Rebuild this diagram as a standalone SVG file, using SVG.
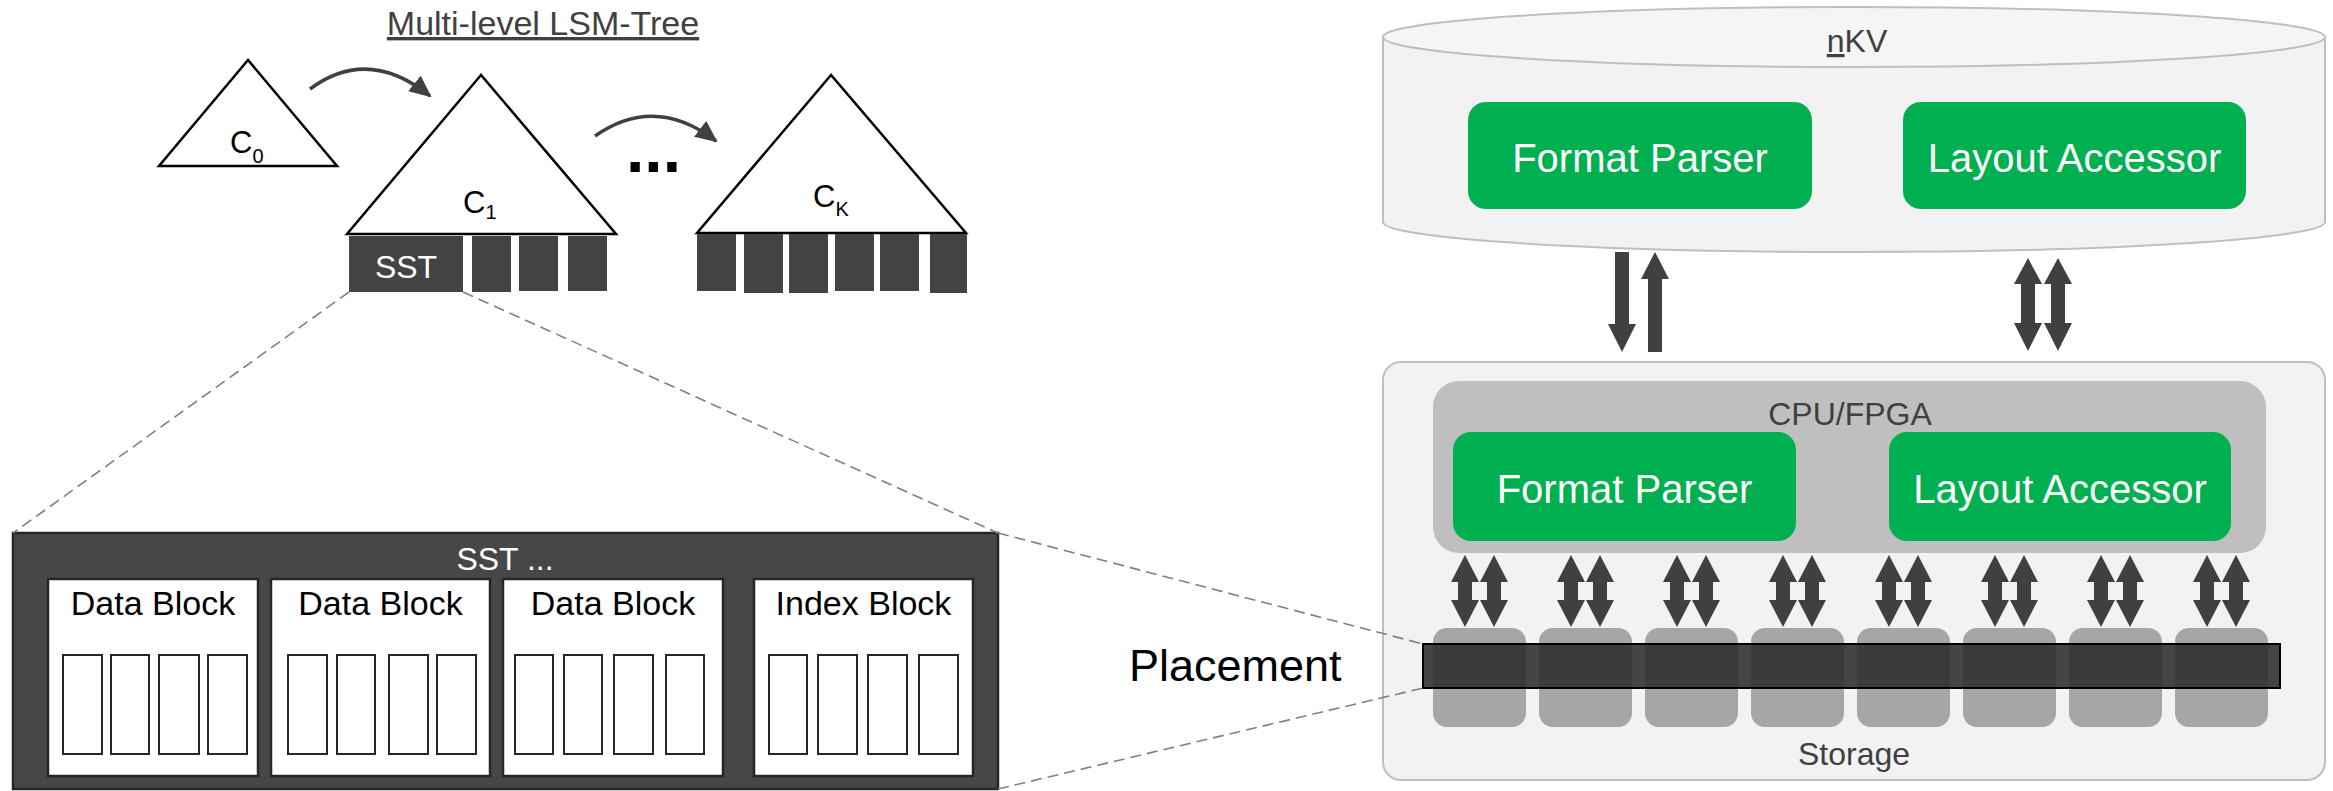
<svg xmlns="http://www.w3.org/2000/svg" width="2333" height="791" viewBox="0 0 2333 791">
<defs>
<style>
text{font-family:"Liberation Sans",Arial,sans-serif;}
.tri{fill:#fff;stroke:#000;stroke-width:2.5;stroke-linejoin:miter;}
.dk{fill:#434343;}
.blk{fill:#fff;stroke:#262626;stroke-width:2.5;}
.cell{fill:#fff;stroke:#262626;stroke-width:2;}
.dash{stroke:#808080;stroke-width:1.6;stroke-dasharray:11 6;fill:none;}
.curve{fill:none;stroke:#404040;stroke-width:3.5;}
.green{fill:#00b050;}
.gt{fill:#fff;font-size:40px;text-anchor:middle;}
.arr{fill:#404040;}
.sto{fill:#a6a6a6;}
.lbl{fill:#404040;font-size:32px;text-anchor:middle;}
</style>
<marker id="ah" markerWidth="22" markerHeight="20" refX="20" refY="10" orient="auto" markerUnits="userSpaceOnUse">
<path d="M0,0 L22,10 L0,20 Z" fill="#404040"/>
</marker>
<path id="dbl" d="M0,0 L14,27 L7,27 L7,45 L14,45 L0,72 L-14,45 L-7,45 L-7,27 L-14,27 Z"/>
</defs>

<g id="title">
<text x="543" y="35" font-size="34" fill="#404040" text-anchor="middle" style="text-decoration:underline">Multi-level LSM-Tree</text>
</g>

<g id="c0">
<polygon class="tri" points="248,60 159,166 337,166"/>
<text x="230" y="153" font-size="31">C<tspan font-size="20" dy="10">0</tspan></text>
</g>

<g id="c1">
<polygon class="tri" points="481,75 347,234 616,234"/>
<text x="463" y="213" font-size="31">C<tspan font-size="20" dy="6">1</tspan></text>
<rect id="sst-small" class="dk" x="349" y="236" width="114" height="56"/>
<text x="406" y="278" font-size="32" fill="#fff" text-anchor="middle">SST</text>
<rect class="dk" x="472" y="236" width="39" height="56"/>
<rect class="dk" x="519" y="236" width="39" height="55"/>
<rect class="dk" x="568" y="236" width="39" height="55"/>
</g>

<g id="ellipsis">
<text x="626" y="172" font-size="66" font-weight="bold" fill="#000">...</text>
</g>

<g id="ck">
<polygon class="tri" points="831,75 697,233 966,233"/>
<text x="813" y="207" font-size="31">C<tspan font-size="20" dy="9">K</tspan></text>
<rect class="dk" x="697" y="234" width="39" height="57"/>
<rect class="dk" x="744" y="234" width="39" height="59"/>
<rect class="dk" x="789" y="234" width="39" height="59"/>
<rect class="dk" x="835" y="234" width="39" height="57"/>
<rect class="dk" x="880" y="234" width="39" height="57"/>
<rect class="dk" x="930" y="234" width="37" height="59"/>
</g>

<g id="sst-detail">
<rect x="13" y="533" width="985" height="256" fill="#474747" stroke="#262626" stroke-width="2.5"/>
<text x="505" y="570" font-size="32" fill="#fff" text-anchor="middle">SST ...</text>
<g id="block1">
<rect class="blk" x="48" y="579" width="210" height="197"/>
<text x="153" y="615" font-size="34" text-anchor="middle">Data Block</text>
<rect class="cell" x="63" y="655" width="39" height="99"/>
<rect class="cell" x="111" y="655" width="38" height="99"/>
<rect class="cell" x="159" y="655" width="40" height="99"/>
<rect class="cell" x="208" y="655" width="39" height="99"/>
</g>
<g id="block2">
<rect class="blk" x="271" y="579" width="219" height="197"/>
<text x="380.5" y="615" font-size="34" text-anchor="middle">Data Block</text>
<rect class="cell" x="288" y="655" width="39" height="99"/>
<rect class="cell" x="337" y="655" width="38" height="99"/>
<rect class="cell" x="389" y="655" width="39" height="99"/>
<rect class="cell" x="437" y="655" width="39" height="99"/>
</g>
<g id="block3">
<rect class="blk" x="503" y="579" width="220" height="197"/>
<text x="613" y="615" font-size="34" text-anchor="middle">Data Block</text>
<rect class="cell" x="515" y="655" width="38" height="99"/>
<rect class="cell" x="564" y="655" width="38" height="99"/>
<rect class="cell" x="614" y="655" width="39" height="99"/>
<rect class="cell" x="666" y="655" width="38" height="99"/>
</g>
<g id="block4">
<rect class="blk" x="754" y="579" width="219" height="197"/>
<text x="863.5" y="615" font-size="34" text-anchor="middle">Index Block</text>
<rect class="cell" x="769" y="655" width="38" height="99"/>
<rect class="cell" x="818" y="655" width="39" height="99"/>
<rect class="cell" x="868" y="655" width="39" height="99"/>
<rect class="cell" x="919" y="655" width="39" height="99"/>
</g>
</g>

<g id="placement-label">
<text x="1129" y="681" font-size="45" fill="#000">Placement</text>
</g>

<g id="nkv">
<path d="M1383,37 V222 A471,30 0 0 0 2325,222 V37 Z" fill="#f2f2f2" stroke="#bfbfbf" stroke-width="2"/>
<ellipse cx="1854" cy="37" rx="471" ry="30" fill="#f5f5f5" stroke="#bfbfbf" stroke-width="2"/>
<text x="1857" y="52" class="lbl"><tspan style="text-decoration:underline">n</tspan>KV</text>
<g id="nkv-parser">
<rect class="green" x="1468" y="102" width="344" height="107" rx="18"/>
<text class="gt" x="1640" y="172">Format Parser</text>
</g>
<g id="nkv-accessor">
<rect class="green" x="1903" y="102" width="343" height="107" rx="18"/>
<text class="gt" x="2074.5" y="172">Layout Accessor</text>
</g>
</g>

<g id="device">
<rect x="1383" y="362" width="942" height="418" rx="18" fill="#f2f2f2" stroke="#bfbfbf" stroke-width="2"/>
<g id="cpu-fpga">
<rect x="1433" y="381" width="833" height="172" rx="26" fill="#bfbfbf"/>
<text class="lbl" x="1850" y="425">CPU/FPGA</text>
<g id="dev-parser">
<rect class="green" x="1453" y="432" width="343" height="109" rx="18"/>
<text class="gt" x="1624.5" y="503">Format Parser</text>
</g>
<g id="dev-accessor">
<rect class="green" x="1889" y="432" width="342" height="109" rx="18"/>
<text class="gt" x="2060" y="503">Layout Accessor</text>
</g>
</g>
<g id="storage">
<rect class="sto" x="1433" y="628" width="93" height="99" rx="14"/>
<rect class="sto" x="1539" y="628" width="93" height="99" rx="14"/>
<rect class="sto" x="1645" y="628" width="93" height="99" rx="14"/>
<rect class="sto" x="1751" y="628" width="93" height="99" rx="14"/>
<rect class="sto" x="1857" y="628" width="93" height="99" rx="14"/>
<rect class="sto" x="1963" y="628" width="93" height="99" rx="14"/>
<rect class="sto" x="2069" y="628" width="93" height="99" rx="14"/>
<rect class="sto" x="2175" y="628" width="93" height="99" rx="14"/>
<text class="lbl" x="1854" y="765">Storage</text>
</g>
<g id="placement-bar">
<rect x="1423" y="644" width="857" height="44" fill="#2a2a2a" fill-opacity="0.87" stroke="#000" stroke-width="2"/>
</g>
</g>

<g id="connectors">
<path class="curve" d="M310,89 Q368,46 430,96" marker-end="url(#ah)"/>
<path class="curve" d="M595,136 Q655,94 716,141" marker-end="url(#ah)"/>
<line class="dash" x1="349" y1="292" x2="13" y2="533"/>
<line class="dash" x1="463" y1="292" x2="998" y2="533"/>
<line class="dash" x1="998" y1="533" x2="1423" y2="644"/>
<line class="dash" x1="998" y1="789" x2="1423" y2="688"/>
<path class="arr" d="M1615,252 H1629 V324 H1636 L1622,352 L1608,324 H1615 Z"/>
<path class="arr" d="M1648,352 H1662 V279 H1669 L1655,252 L1641,279 H1648 Z"/>
<path class="arr" d="M2028,258 L2042,284 H2035 V323 H2042 L2028,351 L2014,323 H2021 V284 H2014 Z"/>
<path class="arr" d="M2058,258 L2072,284 H2065 V323 H2072 L2058,351 L2044,323 H2051 V284 H2044 Z"/>
<g class="arr">
<use href="#dbl" x="1465" y="555"/><use href="#dbl" x="1494" y="555"/>
<use href="#dbl" x="1571" y="555"/><use href="#dbl" x="1600" y="555"/>
<use href="#dbl" x="1677" y="555"/><use href="#dbl" x="1706" y="555"/>
<use href="#dbl" x="1783" y="555"/><use href="#dbl" x="1812" y="555"/>
<use href="#dbl" x="1889" y="555"/><use href="#dbl" x="1918" y="555"/>
<use href="#dbl" x="1995" y="555"/><use href="#dbl" x="2024" y="555"/>
<use href="#dbl" x="2101" y="555"/><use href="#dbl" x="2130" y="555"/>
<use href="#dbl" x="2207" y="555"/><use href="#dbl" x="2236" y="555"/>
</g>
</g>
</svg>
